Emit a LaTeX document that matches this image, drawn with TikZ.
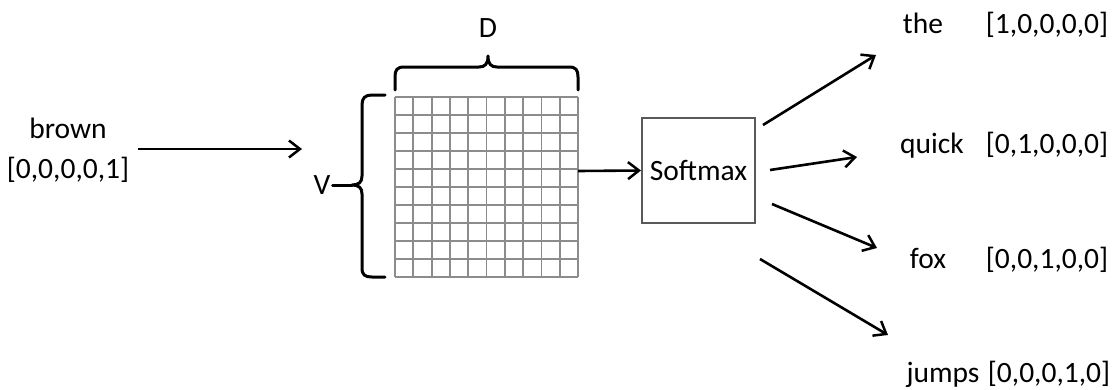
\documentclass[tikz,border=0pt]{standalone}
\usepackage{fontspec}
\setmainfont{Carlito}
\usetikzlibrary{arrows.meta}
\begin{document}
\begin{tikzpicture}[x=1pt,y=-1pt,
  lbl/.style={font=\fontsize{29.5}{34}\selectfont, inner sep=0pt, anchor=base},
  arr/.style={line width=2.6pt, -{Straight Barb[length=11pt,width=17pt,line width=2.5pt]}},
  gridline/.style={draw=black!45, line width=1.8pt},
  bracepath/.style={line width=3pt, line cap=round, line join=round},
  boxstyle/.style={draw=black!65, line width=2pt, minimum width=113pt, minimum height=105pt, inner sep=0pt, font=\fontsize{29.5}{34}\selectfont}]
\useasboundingbox (0,0) rectangle (1116,389);

% input
\node[lbl] (brown) at (68,138) {brown};
\node[lbl] (invec) at (68,178) {[0,0,0,0,1]};
\coordinate (ins) at (138,149);
\coordinate (ine) at (302,149);
\draw[arr] (ins) -- (ine);

% grid
\foreach \i in {0,...,10} {
  \draw[gridline] ({395+\i*18.3},97) -- ({395+\i*18.3},277);
  \draw[gridline] (395,{97+\i*18}) -- (578,{97+\i*18});
}
\coordinate (gridE) at (578,171);

% top brace
\draw[bracepath] (395,90) -- (395,77) .. controls (395,70) and (397,67) .. (404,67) -- (479,67)
  .. controls (485,67) and (488,64) .. (488,56)
  .. controls (488,64) and (491,67) .. (497,67) -- (569,67)
  .. controls (576,67) and (578,70) .. (578,77) -- (578,90);
\node[lbl] (D) at (488,37) {D};

% left brace
\coordinate (vtip) at (352,185);
\draw[bracepath] (385,95) -- (372,95) .. controls (365,95) and (362,98) .. (362,105) -- (362,176)
  .. controls (362,182) and (359,185) .. (vtip)
  .. controls (359,185) and (362,188) .. (362,194) -- (362,268)
  .. controls (362,275) and (365,277) .. (372,277) -- (385,277);
\node[lbl] (V) at (322,194) {V};
\draw[bracepath] ([xshift=2pt]V.east |- vtip) -- (vtip);

% softmax
\node[boxstyle] (sm) at (698.5,170.5) {Softmax};
\draw[arr] (gridE) -- (sm.west);

% outputs
\node[lbl] (the) at (923,33) {the};
\node[lbl] (thev) at (1047,33) {[1,0,0,0,0]};
\node[lbl] (quick) at (932,153) {quick};
\node[lbl] (quickv) at (1047,153) {[0,1,0,0,0]};
\node[lbl] (fox) at (928,268) {fox};
\node[lbl] (foxv) at (1047,268) {[0,0,1,0,0]};
\node[lbl] (jumps) at (943,382) {jumps};
\node[lbl] (jumpsv) at (1049,382) {[0,0,0,1,0]};

\coordinate (a1s) at (763,125); \coordinate (a1e) at (876,55);
\coordinate (a2s) at (770,170); \coordinate (a2e) at (857,157);
\coordinate (a3s) at (772,204); \coordinate (a3e) at (877,248);
\coordinate (a4s) at (760,259); \coordinate (a4e) at (888,335);
\draw[arr] (a1s) -- (a1e);
\draw[arr] (a2s) -- (a2e);
\draw[arr] (a3s) -- (a3e);
\draw[arr] (a4s) -- (a4e);
\end{tikzpicture}
\end{document}
